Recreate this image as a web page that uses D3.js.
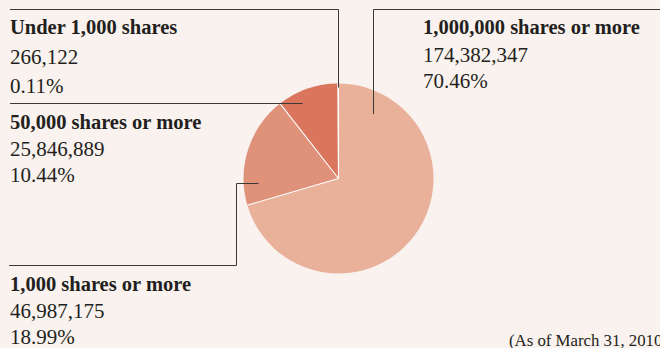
<!DOCTYPE html>
<html>
<head>
<meta charset="utf-8">
<script src="https://cdn.jsdelivr.net/npm/d3@7"></script>
<style>
  html, body { margin: 0; padding: 0; background: #f9f2ee; }
  svg { display: block; }
  text { font-family: "Liberation Serif", "DejaVu Serif", serif; fill: #231f20; }
</style>
</head>
<body>
<div id="chart"></div>
<script>
// shareholding by number of shares held
const categories = ["1,000,000 shares or more", "1,000 shares or more", "50,000 shares or more", "Under 1,000 shares"];
const shares = [174382347, 46987175, 25846889, 266122];
const percents = ["70.46%", "18.99%", "10.44%", "0.11%"];
const colors = ["#e9b09a", "#df917a", "#da765e", "#cf5b41"];
const note = "(As of March 31, 2010)";

const width = 660;
const height = 348;
const cx = 338.5;
const cy = 178.5;
const radius = 95;

const svg = d3
  .select("#chart")
  .append("svg")
  .attr("width", width)
  .attr("height", height);

svg.append("rect").attr("width", width).attr("height", height).attr("fill", "#f9f2ee");

const pie = d3.pie().sort(null).value((d) => d);
const arcs = pie(shares);
const arc = d3.arc().innerRadius(0).outerRadius(radius);

const g = svg.append("g").attr("transform", `translate(${cx},${cy})`);

g.selectAll("path.slice")
  .data(arcs)
  .join("path")
  .attr("class", "slice")
  .attr("d", arc)
  .attr("fill", (d, i) => colors[i]);

// white separators between slices
g.selectAll("line.sep")
  .data(arcs)
  .join("line")
  .attr("class", "sep")
  .attr("x1", 0)
  .attr("y1", 0)
  .attr("x2", (d) => Math.sin(d.startAngle) * radius)
  .attr("y2", (d) => -Math.cos(d.startAngle) * radius)
  .attr("stroke", "#fff")
  .attr("stroke-width", 1.1);

// point on the pie at a given angle / radius, in page coords
const onPie = (angle, r) => [cx + Math.sin(angle) * r, cy - Math.cos(angle) * r];

// label layout: text anchor + leader path (leader ends inside the slice)
const layout = [
  { x: 423, y: [34, 62, 88], path: (p) => [[660, 9.5], [373.5, 9.5], [373.5, p[1]]], angle: 0.49, r: 73 },
  { x: 10, y: [291, 318, 344], path: (p) => [[p[0], 183.5], [236.5, 183.5], [236.5, 265.5], [9, 265.5]], angle: 4.74, r: 80 },
  { x: 10, y: [129, 156, 182], path: (p) => [[10, 103.5], [p[0], 103.5]], angle: 5.86, r: 87 },
  { x: 10, y: [34, 64, 93], path: (p) => [[10, 9.5], [338.5, 9.5], [338.5, p[1]]], angle: 6.28, r: 91 },
];

const line = d3.line();

layout.forEach((l, i) => {
  const p = onPie(l.angle, l.r);
  svg
    .append("path")
    .attr("d", line(l.path(p)))
    .attr("fill", "none")
    .attr("stroke", "#3b3838")
    .attr("stroke-width", 1);

  svg
    .append("text")
    .attr("x", l.x)
    .attr("y", l.y[0])
    .style("font-size", "20.5px")
    .style("font-weight", "bold")
    .text(categories[i]);
  svg
    .append("text")
    .attr("x", l.x)
    .attr("y", l.y[1])
    .style("font-size", "21px")
    .text(d3.format(",")(shares[i]));
  svg
    .append("text")
    .attr("x", l.x)
    .attr("y", l.y[2])
    .style("font-size", "21px")
    .text(percents[i]);
});

// footnote runs off the right edge in the original
svg
  .append("text")
  .attr("x", 509)
  .attr("y", 346)
  .style("font-size", "16.8px")
  .text(note);
</script>
</body>
</html>
